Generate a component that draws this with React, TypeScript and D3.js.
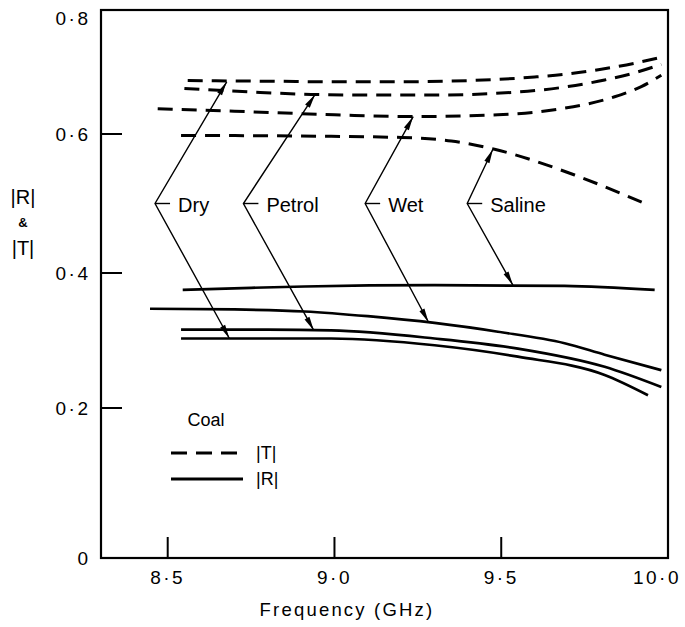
import React from "react";
import * as d3 from "d3";

// Coal: |T| (dashed) and |R| (solid) against frequency, four coal conditions
const W = 685;
const H = 627;
const FRAME = { left: 101, right: 668, top: 10, bottom: 558 };

const xTicks = [8.5, 9.0, 9.5, 10.0];
const xTickLabels = ["8·5", "9·0", "9·5", "10·0"];
const yTicks = [0, 0.2, 0.4, 0.6, 0.8];
const yTickLabels = ["0", "0·2", "0·4", "0·6", "0·8"];

// |T| curves (dashed)
const tDryF = [8.56, 8.8, 9.0, 9.2, 9.4, 9.6, 9.7, 9.8, 9.9, 9.98];
const tDryV = [0.689, 0.688, 0.687, 0.687, 0.689, 0.695, 0.7, 0.708, 0.718, 0.728];
const tPetrolF = [8.55, 8.75, 8.93, 9.1, 9.3, 9.55, 9.7, 9.81, 9.9, 9.98];
const tPetrolV = [0.676, 0.67, 0.666, 0.665, 0.665, 0.67, 0.679, 0.69, 0.702, 0.716];
const tWetF = [8.47, 8.7, 9.0, 9.23, 9.49, 9.69, 9.84, 9.92, 9.98];
const tWetV = [0.642, 0.638, 0.632, 0.629, 0.632, 0.643, 0.662, 0.679, 0.698];
const tSalineF = [8.54, 8.9, 9.2, 9.35, 9.48, 9.72, 9.93];
const tSalineV = [0.598, 0.597, 0.595, 0.59, 0.578, 0.541, 0.5];

// |R| curves (solid)
const rSalineF = [8.545, 8.75, 8.91, 9.3, 9.69, 9.96];
const rSalineV = [0.375, 0.378, 0.38, 0.382, 0.381, 0.375];
const rWetF = [8.447, 8.7, 8.91, 9.1, 9.3, 9.49, 9.69, 9.81, 9.98];
const rWetV = [0.347, 0.346, 0.343, 0.336, 0.326, 0.313, 0.296, 0.279, 0.256];
const rPetrolF = [8.54, 8.8, 8.99, 9.3, 9.55, 9.81, 9.98];
const rPetrolV = [0.316, 0.316, 0.315, 0.303, 0.288, 0.261, 0.231];
const rDryF = [8.54, 8.99, 9.3, 9.55, 9.81, 9.94];
const rDryV = [0.303, 0.303, 0.293, 0.276, 0.249, 0.219];

// annotation labels: apex of the "<" pointer, ends on |T| and |R|
const labels = ["Dry", "Petrol", "Wet", "Saline"];
const apexF = [8.462, 8.727, 9.092, 9.398];
const apexV = 0.5;
const upF = [8.677, 8.942, 9.236, 9.475];
const upV = [0.687, 0.666, 0.629, 0.578];
const downF = [8.685, 8.938, 9.282, 9.535];
const downV = [0.303, 0.315, 0.327, 0.382];

const FONT = "'Liberation Sans', Arial, sans-serif";

const x = d3.scaleLinear().domain([8.3, 10.0]).range([FRAME.left, FRAME.right]);
// hand-drawn axis: tick spacing is not quite even
const y = d3.scaleLinear().domain(yTicks).range([558, 408, 273, 134, 14]);

const zip = (f: number[], v: number[]) => f.map((d, i) => [d, v[i]] as [number, number]);

const tSeries = [zip(tDryF, tDryV), zip(tPetrolF, tPetrolV), zip(tWetF, tWetV), zip(tSalineF, tSalineV)];
const rSeries = [zip(rSalineF, rSalineV), zip(rWetF, rWetV), zip(rPetrolF, rPetrolV), zip(rDryF, rDryV)];

const line = d3
  .line<[number, number]>()
  .x((d) => x(d[0]))
  .y((d) => y(d[1]))
  .curve(d3.curveMonotoneX);

function arrowHead(x1: number, y1: number, x2: number, y2: number, len = 14, half = 2.8) {
  const a = Math.atan2(y2 - y1, x2 - x1);
  const bx = x2 - len * Math.cos(a);
  const by = y2 - len * Math.sin(a);
  const px = -Math.sin(a) * half;
  const py = Math.cos(a) * half;
  return `M${x2},${y2}L${bx + px},${by + py}L${bx - px},${by - py}Z`;
}

export default function App() {
  return (
    <div style={{ position: "absolute", left: 0, top: 0 }}>
      <svg width={W} height={H} style={{ display: "block", background: "#fff" }} fontFamily={FONT}>
        {/* frame */}
        <rect
          x={FRAME.left}
          y={FRAME.top}
          width={FRAME.right - FRAME.left}
          height={FRAME.bottom - FRAME.top}
          fill="none"
          stroke="#000"
          strokeWidth={2.2}
        />

        {/* y ticks */}
        {yTicks.map((t, i) => (
          <g key={"yt" + i}>
            {t > 0 && t < 0.8 && (
              <line x1={FRAME.left} x2={FRAME.left + 21} y1={y(t)} y2={y(t)} stroke="#000" strokeWidth={2} />
            )}
            <text
              x={t === 0 ? 84 : 73}
              y={y(t) + (t === 0.8 ? 4 : 0)}
              textAnchor="middle"
              dominantBaseline="central"
              fontSize={19}
              letterSpacing={2.5}
            >
              {yTickLabels[i]}
            </text>
          </g>
        ))}

        {/* x ticks */}
        {xTicks.map((t, i) => (
          <g key={"xt" + i}>
            {t < 10 && (
              <line x1={x(t)} x2={x(t)} y1={FRAME.bottom} y2={FRAME.bottom - 21} stroke="#000" strokeWidth={2} />
            )}
            <text x={x(t) - (t === 10 ? 11 : 0)} y={577} textAnchor="middle" dominantBaseline="central" fontSize={19} letterSpacing={2.5}>
              {xTickLabels[i]}
            </text>
          </g>
        ))}

        {/* axis titles */}
        <text x={347} y={609} textAnchor="middle" dominantBaseline="central" fontSize={18.5} letterSpacing={2.2}>
          Frequency (GHz)
        </text>
        <text x={23} y={197} textAnchor="middle" dominantBaseline="central" fontSize={20}>|R|</text>
        <text x={23} y={222} textAnchor="middle" dominantBaseline="central" fontSize={13} fontWeight="bold">&amp;</text>
        <text x={23} y={248} textAnchor="middle" dominantBaseline="central" fontSize={20}>|T|</text>

        {/* |T| curves */}
        {tSeries.map((s, i) => (
          <path key={"t" + i} d={line(s) ?? ""} fill="none" stroke="#000" strokeWidth={3} strokeDasharray="15 9" />
        ))}

        {/* |R| curves */}
        {rSeries.map((s, i) => (
          <path key={"r" + i} d={line(s) ?? ""} fill="none" stroke="#000" strokeWidth={2.7} />
        ))}

        {/* pointers */}
        {labels.map((lab, i) => {
          const ax = x(apexF[i]);
          const ay = y(apexV);
          const ux = x(upF[i]);
          const uy = y(upV[i]);
          const dx = x(downF[i]);
          const dy = y(downV[i]);
          return (
            <g key={"lab" + i}>
              <polyline points={`${ux},${uy} ${ax},${ay} ${dx},${dy}`} fill="none" stroke="#000" strokeWidth={1.4} />
              <line x1={ax} x2={ax + 15} y1={ay} y2={ay} stroke="#000" strokeWidth={1.4} />
              <path d={arrowHead(ax, ay, ux, uy)} fill="#000" />
              <path d={arrowHead(ax, ay, dx, dy)} fill="#000" />
              <text x={ax + 23} y={ay + 1} dominantBaseline="central" fontSize={20}>
                {lab}
              </text>
            </g>
          );
        })}

        {/* legend */}
        <text x={206} y={420} textAnchor="middle" dominantBaseline="central" fontSize={18}>Coal</text>
        <line x1={171} x2={243} y1={453} y2={453} stroke="#000" strokeWidth={3} strokeDasharray="16 9" />
        <text x={256} y={453} dominantBaseline="central" fontSize={18}>|T|</text>
        <line x1={171} x2={243} y1={479} y2={479} stroke="#000" strokeWidth={3} />
        <text x={256} y={479} dominantBaseline="central" fontSize={18}>|R|</text>
      </svg>
    </div>
  );
}
